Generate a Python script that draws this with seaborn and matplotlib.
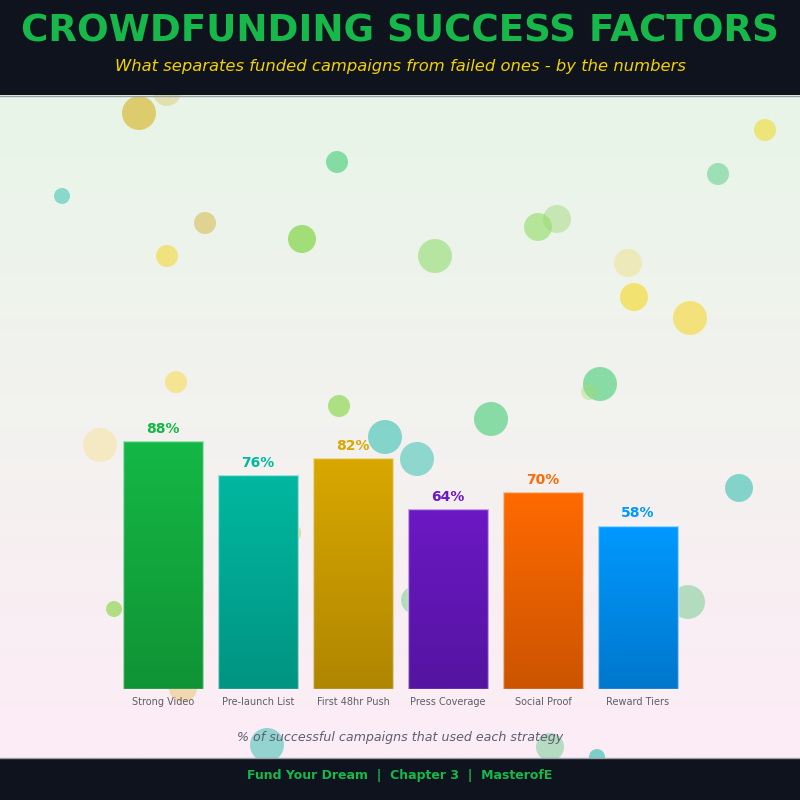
import numpy as np
import matplotlib
matplotlib.use("Agg")
import matplotlib.pyplot as plt
import seaborn as sns
from matplotlib.colors import LinearSegmentedColormap
from matplotlib.patches import Circle, Rectangle

# chart data
strategies = ["Strong Video", "Pre-launch List", "First 48hr Push",
              "Press Coverage", "Social Proof", "Reward Tiers"]
success_pct = [88, 76, 82, 64, 70, 58]
top_colors = ["#14b845", "#00b8a0", "#d9a800", "#6c18c4", "#ff6a00", "#0099ff"]
bottom_colors = ["#109335", "#009482", "#b08600", "#5414a0", "#cc5400", "#0077cc"]

# decorative bubbles (pixel coords of the 800x800 canvas)
bubble_x = [139, 167, 337, 62, 205, 302, 167, 176, 339, 765, 718, 538, 557, 435,
            628, 634, 690, 600, 589, 491, 100, 385, 114, 183, 267, 290, 417, 739,
            688, 415, 550, 597]
bubble_y = [113, 92, 162, 196, 223, 239, 256, 382, 406, 130, 174, 227, 219, 256,
            263, 297, 318, 384, 392, 419, 445, 437, 609, 688, 745, 533, 459, 488,
            602, 600, 747, 757]
bubble_r = [17, 14, 11, 8, 11, 14, 11, 11, 11, 11, 11, 14, 14, 17,
            14, 14, 17, 17, 8, 17, 17, 17, 8, 14, 17, 11, 17, 14,
            17, 14, 14, 8]
bubble_c = ["#d6b21c", "#d8cc6a", "#22c55e", "#14b8a6", "#d4b43a", "#6fd02a", "#f5d428",
            "#f8d83a", "#7fd43a", "#f2d820", "#40c878", "#80d84a", "#9ad870", "#80d858",
            "#f0dc70", "#f5d820", "#f7d830", "#22c55e", "#a0dc70", "#22c55e", "#f8dc70",
            "#14b8a6", "#7fd43a", "#e8c060", "#14b8a6", "#d8b840", "#14b8a6", "#14b8a6",
            "#60c880", "#60c880", "#60c880", "#14b8a6"]
bubble_a = [0.6, 0.45, 0.5, 0.45, 0.5, 0.6, 0.55, 0.5, 0.6, 0.55, 0.45, 0.5, 0.45, 0.5,
            0.4, 0.6, 0.6, 0.5, 0.4, 0.5, 0.35, 0.5, 0.6, 0.45, 0.45, 0.5, 0.45, 0.5,
            0.45, 0.45, 0.45, 0.55]

sns.set_theme(style="white")
plt.rcParams["font.family"] = ["DejaVu Sans"]

fig = plt.figure(figsize=(8, 8), dpi=100)

# background layer in pixel coordinates
bg = fig.add_axes([0, 0, 1, 1])
bg.set_xlim(0, 800)
bg.set_ylim(800, 0)
bg.axis("off")
grad_cmap = LinearSegmentedColormap.from_list("bg", ["#e8f5e8", "#f3f2ef", "#fdecf6"])
bg.imshow(np.linspace(0, 1, 256).reshape(-1, 1), cmap=grad_cmap, aspect="auto",
          extent=[0, 800, 758, 95], zorder=0)
for x, y, r, c, a in zip(bubble_x, bubble_y, bubble_r, bubble_c, bubble_a):
    bg.add_patch(Circle((x, y), r, facecolor=c, edgecolor="none", alpha=a, zorder=1))
bg.add_patch(Rectangle((0, 0), 800, 95, facecolor="#0f131e", edgecolor="none", zorder=5))
bg.add_patch(Rectangle((0, 758), 800, 42, facecolor="#0f131e", edgecolor="none", zorder=5))
bg.plot([0, 800], [95.5, 95.5], color="#9aa0a6", lw=1, zorder=6)
bg.plot([0, 800], [758, 758], color="#9aa0a6", lw=1, zorder=6)
bg.set_xlim(0, 800)
bg.set_ylim(800, 0)

# bar chart
ax = fig.add_axes([0, 1 - 689 / 800, 1, (689 - 95) / 800])
ax.patch.set_alpha(0)
sns.barplot(x=strategies, y=success_pct, hue=strategies, palette=top_colors,
            legend=False, width=0.85, ax=ax)

for i, bar in enumerate(ax.patches):
    x0, w, h = bar.get_x(), bar.get_width(), bar.get_height()
    cmap = LinearSegmentedColormap.from_list(f"b{i}", [bottom_colors[i], top_colors[i]])
    im = ax.imshow(np.linspace(0, 1, 256).reshape(-1, 1), cmap=cmap, origin="lower",
                   aspect="auto", extent=[x0, x0 + w, 0, h], zorder=2)
    im.set_clip_path(bar)
    bar.set_facecolor("none")
    bar.set_edgecolor((1, 1, 1, 0.6))
    bar.set_linewidth(1)
    bar.set_zorder(3)
    ax.text(i, success_pct[i] + 4.3, f"{success_pct[i]}%", ha="center", va="center",
            fontsize=10, fontweight="bold", color=top_colors[i], zorder=4)

ax.set_xlim(-163 / 95, (800 - 163) / 95)
ax.set_ylim(0, (689 - 95) / 2.818)
ax.set_yticks([])
ax.set_xlabel("")
ax.set_ylabel("")
for s in ax.spines.values():
    s.set_visible(False)
ax.tick_params(axis="x", length=0, pad=6, labelsize=7, labelcolor="#5a5f69")

# titles and footer text
fig.text(0.5, 1 - 31 / 800, "CROWDFUNDING SUCCESS FACTORS", ha="center", va="center",
         fontsize=26.8, fontweight="bold", color="#16b84a")
fig.text(0.5, 1 - 67 / 800, "What separates funded campaigns from failed ones - by the numbers",
         ha="center", va="center", fontsize=11.75, style="italic", color="#f2d200")
fig.text(0.5, 1 - 737 / 800, "% of successful campaigns that used each strategy",
         ha="center", va="center", fontsize=9.05, style="italic", color="#5a6070")
fig.text(0.5, 1 - 776 / 800, "Fund Your Dream  |  Chapter 3  |  MasterofE",
         ha="center", va="center", fontsize=9.0, fontweight="bold", color="#16b84a")

fig.savefig("out.png", dpi=100)
